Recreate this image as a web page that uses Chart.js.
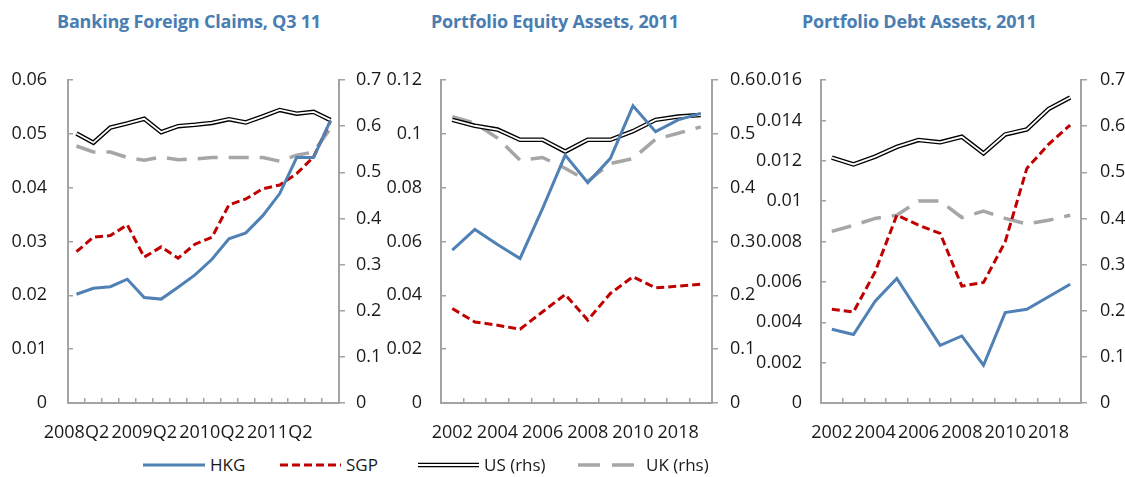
<!DOCTYPE html>
<html>
<head>
<meta charset="utf-8">
<script src="https://cdn.jsdelivr.net/npm/chart.js@4.4.1/dist/chart.umd.min.js"></script>
<style>
  body { margin: 0; background: #fff; width: 1125px; height: 477px; overflow: hidden; position: relative; font-family: "Open Sans", sans-serif; }
  .panel { position: absolute; top: 0; height: 450px; }
  .title { position: absolute; top: 9px; font-weight: bold; font-size: 18px; color: #4a7db1; letter-spacing: -0.2px; white-space: nowrap; }
  .legend { position: absolute; top: 452px; left: 0; width: 1125px; height: 25px; font-size: 17px; color: #1a1a1a; }
  .legend .item { position: absolute; top: 0; height: 25px; display: flex; align-items: center; }
  .legend svg { margin-right: 5px; }
</style>
</head>
<body>
<div class="title" style="left:57px">Banking Foreign Claims, Q3 11</div>
<div class="title" style="left:431px">Portfolio Equity Assets, 2011</div>
<div class="title" style="left:802px">Portfolio Debt Assets, 2011</div>

<div class="panel" style="left:0;width:385px"><canvas id="chart1"></canvas></div>
<div class="panel" style="left:380px;width:380px"><canvas id="chart2"></canvas></div>
<div class="panel" style="left:745px;width:380px"><canvas id="chart3"></canvas></div>

<div class="legend">
  <div class="item" style="left:143px"><svg width="62" height="10"><line x1="0" y1="5" x2="62" y2="5" stroke="#4f81b5" stroke-width="3"/></svg>HKG</div>
  <div class="item" style="left:280px"><svg width="61" height="10"><line x1="0" y1="5" x2="61" y2="5" stroke="#c00000" stroke-width="3" stroke-dasharray="8 4"/></svg>SGP</div>
  <div class="item" style="left:418px"><svg width="61" height="10"><line x1="0" y1="5" x2="61" y2="5" stroke="#000" stroke-width="4.5"/><line x1="0" y1="5" x2="61" y2="5" stroke="#fff" stroke-width="2"/></svg>US (rhs)</div>
  <div class="item" style="left:578px"><svg width="63" height="10"><line x1="0" y1="5" x2="63" y2="5" stroke="#a6a6a6" stroke-width="3.5" stroke-dasharray="22 12"/></svg>UK (rhs)</div>
</div>

<script>
// Banking Foreign Claims, Q3 11 (quarterly)
const quarters = ["2008Q2","2008Q3","2008Q4","2009Q1","2009Q2","2009Q3","2009Q4","2010Q1",
  "2010Q2","2010Q3","2010Q4","2011Q1","2011Q2","2011Q3","2011Q4","2012Q1"];
const quarterTicks = ["2008Q2","","","","2009Q2","","","","2010Q2","","","","2011Q2","","",""];
const bankHKG = [0.0202,0.0213,0.0216,0.0230,0.0196,0.0193,0.0215,0.0238,0.0267,0.0305,0.0316,0.0348,0.0389,0.0456,0.0456,0.0525];
const bankSGP = [0.0281,0.0308,0.0311,0.0331,0.0271,0.0290,0.0269,0.0295,0.0308,0.0368,0.0379,0.0398,0.0405,0.0426,0.0457,0.0524];
const bankUS  = [0.584,0.564,0.597,0.606,0.616,0.587,0.600,0.603,0.607,0.615,0.608,0.621,0.635,0.627,0.631,0.613];
const bankUK  = [0.557,0.544,0.544,0.532,0.526,0.533,0.527,0.529,0.532,0.532,0.532,0.532,0.524,0.537,0.544,0.595];

// Portfolio Equity / Debt Assets, 2011 (annual)
const years = ["2002","2003","2004","2005","2006","2007","2008","2009","2010","2011","2012","2013"];
const yearTicks = ["2002","","2004","","2006","","2008","","2010","","2018",""];
const eqHKG = [0.0568,0.0645,0.0589,0.0537,0.0723,0.0921,0.0818,0.0909,0.1104,0.1008,0.1052,0.1076];
const eqSGP = [0.0351,0.0301,0.0289,0.0274,0.0339,0.0403,0.0308,0.0407,0.0469,0.0428,0.0434,0.0441];
const eqUS  = [0.526,0.515,0.508,0.489,0.489,0.467,0.489,0.489,0.505,0.526,0.532,0.535];
const eqUK  = [0.532,0.520,0.492,0.451,0.456,0.436,0.412,0.445,0.454,0.490,0.501,0.513];

const debtHKG = [0.00365,0.00339,0.00504,0.00617,0.00451,0.00286,0.00332,0.00187,0.00448,0.00464,0.00526,0.00588];
const debtSGP = [0.00464,0.00451,0.00650,0.00931,0.00881,0.00840,0.00579,0.00597,0.00798,0.01162,0.01281,0.01377];
const debtUS  = [0.532,0.517,0.534,0.555,0.570,0.565,0.577,0.541,0.582,0.593,0.637,0.662];
const debtUK  = [0.372,0.385,0.400,0.407,0.438,0.438,0.402,0.416,0.400,0.388,0.396,0.407];

const axisGrey = "#a3a3a3";
const tickFont = { family: "Open Sans", size: 18 };

// white core stroke over the black US line -> double line look
const doubleLine = {
  id: "doubleLine",
  afterDatasetDraw(chart, args) {
    const ds = chart.data.datasets[args.index];
    if (!ds.double) return;
    const pts = args.meta.data;
    const ctx = chart.ctx;
    ctx.save();
    ctx.strokeStyle = "#ffffff";
    ctx.lineWidth = 1.8;
    ctx.beginPath();
    pts.forEach((p, i) => (i ? ctx.lineTo(p.x, p.y) : ctx.moveTo(p.x, p.y)));
    ctx.stroke();
    ctx.restore();
  },
};

function makeChart(id, cfg) {
  const ctx = document.getElementById(id).getContext("2d");
  const fmt = (v) => String(+Number(v).toFixed(4));
  return new Chart(ctx, {
    type: "line",
    data: {
      labels: cfg.labels,
      datasets: [
        { label: "HKG", data: cfg.hkg, yAxisID: "y", borderColor: "#4f81b5", borderWidth: 3 },
        { label: "SGP", data: cfg.sgp, yAxisID: "y", borderColor: "#c00000", borderWidth: 3, borderDash: [8, 4] },
        { label: "US (rhs)", data: cfg.us, yAxisID: "y1", borderColor: "#000000", borderWidth: 4.5, double: true },
        { label: "UK (rhs)", data: cfg.uk, yAxisID: "y1", borderColor: "#a6a6a6", borderWidth: 3.5, borderDash: [20, 11] },
      ],
    },
    options: {
      responsive: false,
      animation: false,
      elements: { line: { tension: 0, fill: false }, point: { radius: 0 } },
      layout: { padding: { top: 80, left: 0, right: 0, bottom: 0 } },
      plugins: { legend: { display: false }, tooltip: { enabled: false } },
      scales: {
        x: {
          type: "category",
          offset: true,
          grid: { display: true, offset: true, drawOnChartArea: false, tickLength: -5, color: axisGrey, lineWidth: 1.5 },
          border: { color: axisGrey, width: 2 },
          ticks: {
            autoSkip: false, maxRotation: 0, padding: 24, color: "#1a1a1a", font: tickFont,
            callback: (v, i) => cfg.ticks[i],
          },
          afterFit: (s) => { s.height = 47; },
        },
        y: {
          position: "left",
          min: 0, max: cfg.leftMax,
          grid: { display: true, drawOnChartArea: false, tickLength: -5, color: axisGrey, lineWidth: 1.5 },
          border: { color: axisGrey, width: 2 },
          ticks: { stepSize: cfg.leftStep, padding: cfg.leftPad, color: "#1a1a1a", font: tickFont, callback: fmt },
          afterFit: (s) => { s.width = cfg.leftW; },
        },
        y1: {
          position: "right",
          min: 0, max: cfg.rightMax,
          grid: { display: true, drawOnChartArea: false, tickLength: 6, color: axisGrey, lineWidth: 1.5 },
          border: { color: axisGrey, width: 2 },
          ticks: { stepSize: 0.1, padding: cfg.rightPad, color: "#1a1a1a", font: tickFont, callback: fmt },
          afterFit: (s) => { s.width = cfg.rightW; },
        },
      },
    },
    plugins: [doubleLine],
  });
}

function sizeCanvas(id, w, h) {
  const c = document.getElementById(id);
  c.width = w; c.height = h;
  c.style.width = w + "px"; c.style.height = h + "px";
}
sizeCanvas("chart1", 385, 450);
sizeCanvas("chart2", 380, 450);
sizeCanvas("chart3", 380, 450);

makeChart("chart1", {
  labels: quarters, ticks: quarterTicks,
  hkg: bankHKG, sgp: bankSGP, us: bankUS, uk: bankUK,
  leftMax: 0.06, leftStep: 0.01, rightMax: 0.7,
  leftW: 68, rightW: 46, leftPad: 26, rightPad: 11,
});
makeChart("chart2", {
  labels: years, ticks: yearTicks,
  hkg: eqHKG, sgp: eqSGP, us: eqUS, uk: eqUK,
  leftMax: 0.12, leftStep: 0.02, rightMax: 0.6,
  leftW: 61, rightW: 48, leftPad: 24, rightPad: 12,
});
makeChart("chart3", {
  labels: years, ticks: yearTicks,
  hkg: debtHKG, sgp: debtSGP, us: debtUS, uk: debtUK,
  leftMax: 0.016, leftStep: 0.002, rightMax: 0.7,
  leftW: 76, rightW: 44, leftPad: 24, rightPad: 13,
});
</script>
</body>
</html>
